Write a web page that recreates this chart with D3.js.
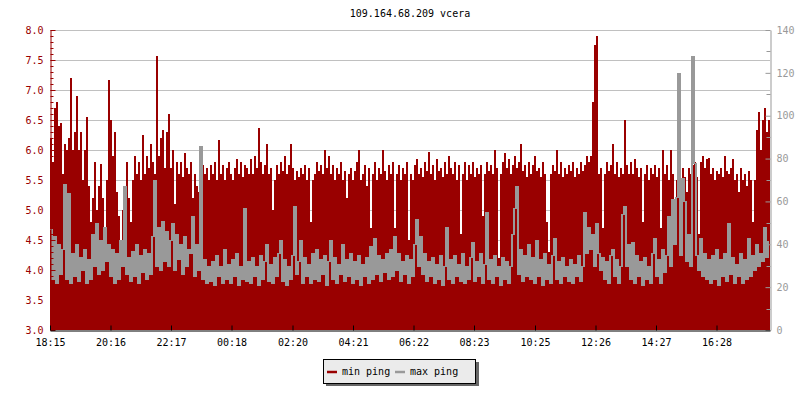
<!DOCTYPE html>
<html>
<head>
<meta charset="utf-8">
<script src="https://cdn.jsdelivr.net/npm/d3@7"></script>
<style>
  html, body { margin: 0; padding: 0; background: #fff; }
  svg { display: block; font-family: "DejaVu Sans Mono", monospace; }
</style>
</head>
<body>
<svg id="chart" width="800" height="400"></svg>
<script>
// ---- data ----
const title = "109.164.68.209 vcera";
const seriesNames = ["min ping", "max ping"];
const startLabel = "18:15";
const stepMinutes = 4;
const xTickLabels = ["18:15","20:16","22:17","00:18","02:20","04:21","06:22","08:23","10:25","12:26","14:27","16:28"];
const leftTicks = [3.0,3.5,4.0,4.5,5.0,5.5,6.0,6.5,7.0,7.5,8.0];
const rightTicks = [0,20,40,60,80,100,120,140];

// min ping (ms, left axis)
const minPing = [
 6.2,5.8,6.7,6.8,6.4,6.45,5.6,6.1,6.0,6.2,
 7.2,6.0,6.3,6.9,6.0,6.3,5.5,6.0,6.55,5.4,
 4.8,5.2,5.8,5.0,5.4,5.77,5.2,4.5,5.5,7.17,
 6.5,5.9,6.3,5.3,4.9,4.5,5.0,5.4,5.8,5.2,
 4.8,5.5,5.9,5.6,5.8,5.5,6.25,5.6,5.9,5.7,
 6.1,5.8,5.6,7.57,5.9,6.2,6.33,5.7,6.3,6.6,
 5.7,6.0,5.1,5.8,5.6,5.8,5.55,5.95,5.7,5.6,
 5.8,5.2,5.6,5.4,5.3,5.6,5.75,5.6,5.7,5.5,
 5.75,5.6,5.8,5.5,6.17,5.6,5.75,5.5,5.7,5.8,
 5.6,5.5,5.7,5.85,5.6,5.8,5.55,5.75,5.7,5.6,
 5.85,5.6,5.9,5.7,6.37,5.8,5.6,5.75,6.1,5.6,
 5.7,5.0,5.5,5.75,5.6,5.8,5.65,5.9,5.6,5.75,
 6.1,5.7,5.5,5.65,5.55,5.7,5.6,5.75,5.5,5.7,
 4.8,5.5,5.6,5.8,5.65,5.75,5.6,6.0,5.7,5.9,
 5.6,5.75,5.5,5.7,5.6,5.8,5.5,5.65,5.2,5.6,
 5.7,5.5,5.65,5.8,6.0,5.5,5.6,5.75,5.4,5.7,
 4.7,5.6,5.8,5.5,5.7,5.6,6.0,5.65,5.5,5.75,
 5.6,5.8,4.7,5.6,5.75,5.5,5.7,5.6,5.8,4.5,
 5.6,5.5,5.75,5.85,5.6,5.7,5.55,5.8,5.65,5.97,
 5.6,5.75,5.5,5.85,5.65,5.7,5.55,5.8,5.6,5.9,
 5.7,5.6,5.8,5.5,5.75,4.6,5.6,5.8,5.5,5.75,
 5.6,5.8,5.55,5.7,5.6,5.75,4.9,5.6,5.8,5.65,
 5.75,5.6,6.0,5.7,4.2,5.6,5.8,5.95,5.7,5.85,
 5.6,5.75,5.9,5.7,5.8,6.1,5.65,5.75,5.55,5.8,
 5.6,5.75,5.9,5.65,5.7,5.55,5.8,5.6,4.8,4.3,
 5.6,5.75,5.65,6.0,5.6,5.8,5.55,5.7,5.6,5.75,
 5.65,5.8,5.55,5.7,5.6,5.8,5.65,5.75,5.9,5.8,
 5.9,6.8,7.75,7.9,5.6,5.7,4.7,5.6,5.8,5.65,
 5.75,6.1,5.6,5.8,5.55,5.7,5.6,6.5,5.75,5.6,
 5.8,5.6,5.85,5.7,5.55,5.7,4.8,5.6,5.75,5.5,
 5.7,5.6,5.75,5.55,5.7,4.7,6.0,5.6,5.75,5.5,
 6.0,5.6,4.9,5.5,5.65,5.4,5.7,5.55,5.3,5.7,
 5.6,5.75,5.8,5.55,4.6,5.8,5.9,5.7,5.85,5.87,
 5.6,5.7,5.5,5.65,5.6,5.7,5.55,5.9,5.65,5.6,
 5.7,5.85,5.5,5.6,5.3,5.7,5.5,5.6,5.4,5.65,
 5.5,4.8,5.5,6.33,6.63,6.0,6.5,6.7,6.3,6.5
];

// max ping (ms, right axis)
const maxPing = [
 47,24,44,22,40,26,38,68,24,64,
 22,36,25,40,23,34,28,38,22,33,
 24,45,30,50,26,42,28,48,32,40,
 25,38,22,36,24,42,30,67,26,34,
 23,37,25,40,22,35,27,38,24,36,
 26,44,70,30,48,28,51,32,46,30,
 42,50,28,45,33,40,26,44,30,38,
 36,53,25,40,28,86,24,33,22,30,
 23,32,21,35,25,30,22,38,24,31,
 22,33,25,36,21,30,24,57,23,32,
 22,34,25,30,21,35,24,32,40,23,
 31,22,34,25,36,42,23,33,21,30,
 24,35,58,26,32,42,22,34,25,31,
 22,36,24,38,23,33,26,35,21,32,
 42,24,34,22,31,26,40,23,33,25,
 36,22,32,24,35,21,31,25,34,22,
 39,24,43,26,35,23,33,27,36,24,
 38,25,44,28,36,23,32,26,35,22,
 33,25,40,52,30,44,26,36,23,32,
 25,34,22,31,24,35,21,30,48,24,
 33,22,35,25,31,23,36,22,30,24,
 34,41,23,32,25,36,22,31,55,24,
 33,22,35,25,30,21,34,24,32,22,
 30,45,57,67,26,38,23,35,25,40,
 24,34,22,42,25,33,21,36,24,31,
 22,35,43,24,32,22,34,25,30,23,
 33,22,31,25,35,23,30,55,36,48,
 38,45,30,50,36,28,34,24,32,22,
 35,38,25,33,22,30,54,58,30,40,
 24,41,22,35,25,32,21,34,24,30,
 22,36,43,25,33,22,38,27,35,53,
 30,61,40,62,120,35,71,60,32,45,
 30,128,78,35,28,43,25,36,24,33,
 22,35,24,38,21,33,25,36,23,50,
 26,34,22,31,25,36,22,33,24,43,
 25,35,28,40,30,36,32,48,34,42
];

// ---- chart ----
const RED = "#990000", GRAY = "#999999";
const svg = d3.select("#chart");
const margin = {left: 50, right: 30, top: 30, bottom: 70};
const W = 800, H = 400;
const plotL = margin.left, plotR = W - margin.right, plotT = margin.top, plotB = H - margin.bottom;

const parseHM = d3.timeParse("%Y-%m-%d %H:%M");
const t0 = parseHM("2000-01-01 " + startLabel);
const tEnd = d3.timeMinute.offset(t0, stepMinutes * minPing.length);
const times = minPing.map((_, i) => d3.timeMinute.offset(t0, i * stepMinutes));
const tickDates = xTickLabels.map(s => {
  const d = parseHM("2000-01-01 " + s);
  return d < t0 ? d3.timeDay.offset(d, 1) : d;
});

const x = d3.scaleTime().domain([t0, tEnd]).range([plotL, plotR]);
const yL = d3.scaleLinear().domain([3, 8]).range([plotB, plotT]);
const yR = d3.scaleLinear().domain([0, 140]).range([plotB, plotT]);

// title
svg.append("text")
  .attr("x", (plotL + plotR) / 2).attr("y", 17)
  .attr("text-anchor", "middle").attr("font-size", 10).attr("fill", "#000")
  .text(title);

// grid lines
svg.append("g").selectAll("line").data(leftTicks.filter(v => v > 3))
  .join("line")
  .attr("x1", plotL).attr("x2", plotR)
  .attr("y1", d => Math.round(yL(d)) + 0.5).attr("y2", d => Math.round(yL(d)) + 0.5)
  .attr("stroke", "#c0c0c0").attr("stroke-width", 1);

// min ping bars
const barData = minPing.map((v, i) => ({t: times[i], t2: d3.timeMinute.offset(times[i], stepMinutes), v}));
svg.append("g").attr("shape-rendering", "crispEdges").selectAll("rect").data(barData)
  .join("rect")
  .attr("x", d => x(d.t))
  .attr("width", d => x(d.t2) - x(d.t))
  .attr("y", d => yL(d.v))
  .attr("height", d => yL(3) - yL(d.v))
  .attr("fill", RED);

// max ping step line: drawn in a group stretched 2x horizontally so vertical
// strokes are 2px wide while horizontal strokes stay 1px tall
const line = d3.line()
  .x((d, i) => x(times[i]) / 2)
  .y(d => Math.round(yR(d)) + 0.5)
  .curve(d3.curveStepAfter);
svg.append("g").attr("transform", "scale(2,1)")
  .append("path")
  .datum(maxPing)
  .attr("d", line)
  .attr("fill", "none")
  .attr("stroke", GRAY)
  .attr("stroke-width", 1)
  .attr("shape-rendering", "crispEdges");

// left axis
const leftAxis = d3.axisLeft(yL).tickValues(leftTicks).tickFormat(d3.format(".1f"))
  .tickSizeInner(-5).tickSizeOuter(0).tickPadding(7);
const gL = svg.append("g").attr("transform", `translate(${plotL + 0.5},0)`).call(leftAxis);
gL.selectAll("text").attr("fill", RED).attr("font-size", 10).attr("font-family", "DejaVu Sans Mono");
gL.selectAll("line, path").attr("stroke", RED);
const minorL = d3.range(30, 81).map(v => v / 10).filter(v => Math.round(v * 10) % 5 !== 0);
gL.append("g").selectAll("line").data(minorL).join("line")
  .attr("x1", 0).attr("x2", 3)
  .attr("y1", d => Math.round(yL(d)) + 0.5).attr("y2", d => Math.round(yL(d)) + 0.5)
  .attr("stroke", RED);

// right axis
const rightAxis = d3.axisRight(yR).tickValues(rightTicks).tickFormat(d3.format("d"))
  .tickSizeInner(-5).tickSizeOuter(0).tickPadding(6);
const gR = svg.append("g").attr("transform", `translate(${plotR + 0.5},0)`).call(rightAxis);
gR.selectAll("text").attr("fill", GRAY).attr("font-size", 10).attr("font-family", "DejaVu Sans Mono");
gR.selectAll("line, path").attr("stroke", GRAY);
const minorR = d3.range(10, 140, 20);
gR.append("g").selectAll("line").data(minorR).join("line")
  .attr("x1", 0).attr("x2", -4)
  .attr("y1", d => Math.round(yR(d)) + 0.5).attr("y2", d => Math.round(yR(d)) + 0.5)
  .attr("stroke", GRAY);

// bottom axis
const bottomAxis = d3.axisBottom(x).tickValues(tickDates).tickFormat(d3.timeFormat("%H:%M"))
  .tickSizeInner(-5).tickSizeOuter(0).tickPadding(8);
const gB = svg.append("g").attr("transform", `translate(0,${plotB + 0.5})`).call(bottomAxis);
gB.selectAll("text").attr("fill", "#000").attr("font-size", 10).attr("font-family", "DejaVu Sans Mono");
gB.selectAll("line, path").attr("stroke", "#000");

// legend
const lg = svg.append("g").attr("transform", "translate(323,359)");
lg.append("rect").attr("x", 3).attr("y", 3).attr("width", 153).attr("height", 24).attr("fill", "#666");
lg.append("rect").attr("x", 0.5).attr("y", 0.5).attr("width", 152).attr("height", 24)
  .attr("fill", "#ebebeb").attr("stroke", "#000");
const legendColors = [RED, GRAY];
const legendX = [4, 72];
const items = lg.selectAll("g.item").data(seriesNames).join("g")
  .attr("class", "item")
  .attr("transform", (d, i) => `translate(${legendX[i]},0)`);
items.append("line").attr("x1", 0).attr("x2", 10).attr("y1", 13).attr("y2", 13)
  .attr("stroke", (d, i) => legendColors[i]).attr("stroke-width", 2.5);
items.append("text").attr("x", 15).attr("y", 16).attr("font-size", 10).attr("fill", "#000")
  .text(d => d);
</script>
</body>
</html>
